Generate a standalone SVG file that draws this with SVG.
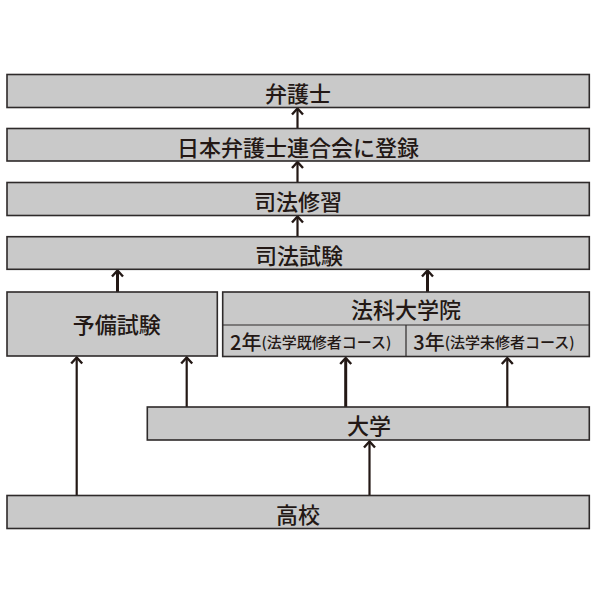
<svg xmlns="http://www.w3.org/2000/svg" width="597" height="600" viewBox="0 0 597 600">
<style>
.box{fill:#c9c9c9;stroke:#2e2a2a;stroke-width:1.6}
.div{fill:none;stroke:#2e2a2a;stroke-width:1.2}
.t{font-family:"Noto Sans CJK JP","Noto Sans",sans-serif;font-weight:500;fill:#231815;text-anchor:middle;dominant-baseline:central}
.l{font-family:"Noto Sans CJK JP","Noto Sans",sans-serif;font-weight:500;fill:#231815;dominant-baseline:central}
.a{fill:none;stroke:#231815;stroke-width:2.2;marker-end:url(#ah)}
.ab{stroke-width:3}
</style>
<defs>
<marker id="ah" markerUnits="userSpaceOnUse" markerWidth="14" markerHeight="14" refX="0" refY="0" viewBox="-8 -7 10 14" orient="auto" overflow="visible">
<path d="M-6,-5.5 L0,0 L-6,5.5" fill="none" stroke="#231815" stroke-width="2.4"/>
</marker>
</defs>
<rect width="597" height="600" fill="#ffffff"/>
<g id="connectors">
<line class="a" x1="297.5" y1="128.5" x2="297.5" y2="108.5"/>
<line class="a" x1="297.5" y1="182.5" x2="297.5" y2="162"/>
<line class="a" x1="297.5" y1="236.7" x2="297.5" y2="216.5"/>
<line class="a ab" x1="117.5" y1="292" x2="117.5" y2="270.5"/>
<line class="a ab" x1="427.5" y1="292" x2="427.5" y2="270.5"/>
<line class="a" x1="76.7" y1="495.5" x2="76.7" y2="357.5"/>
<line class="a" x1="186.7" y1="407" x2="186.7" y2="357.5"/>
<line class="a ab" x1="345.7" y1="407" x2="345.7" y2="358"/>
<line class="a" x1="507.3" y1="407" x2="507.3" y2="358"/>
<line class="a" x1="369.5" y1="495.5" x2="369.5" y2="441.5"/>
</g>
<g id="bengoshi">
<rect class="box" x="7" y="74.5" width="582.3" height="33"/>
<text class="t" x="298" y="91.5" font-size="22">弁護士</text>
</g>
<g id="nichibenren">
<rect class="box" x="7" y="128.5" width="582.3" height="32.5"/>
<text class="t" x="298" y="146" font-size="22">日本弁護士連合会に登録</text>
</g>
<g id="shihoshushu">
<rect class="box" x="7" y="182.5" width="582.3" height="33"/>
<text class="t" x="298" y="200" font-size="22">司法修習</text>
</g>
<g id="shihoshiken">
<rect class="box" x="7" y="236.7" width="582.3" height="32.6"/>
<text class="t" x="299" y="254" font-size="22">司法試験</text>
</g>
<g id="yobishiken">
<rect class="box" x="7" y="292" width="210.3" height="64"/>
<text class="t" x="116.7" y="322.5" font-size="22">予備試験</text>
</g>
<g id="houka">
<rect class="box" x="222.7" y="292" width="366.6" height="64.5"/>
<line class="div" x1="222.7" y1="325" x2="589.3" y2="325"/>
<line class="div" x1="406" y1="325" x2="406" y2="356.5"/>
<text class="t" x="406" y="307.5" font-size="22">法科大学院</text>
<text class="l" x="230" y="341" font-size="20">2年<tspan font-size="15">(法学既修者コース)</tspan></text>
<text class="l" x="413.3" y="341" font-size="20">3年<tspan font-size="15">(法学未修者コース)</tspan></text>
</g>
<g id="daigaku">
<rect class="box" x="147.3" y="407" width="442" height="33"/>
<text class="t" x="369" y="424" font-size="22">大学</text>
</g>
<g id="koukou">
<rect class="box" x="7" y="495.5" width="582.3" height="33"/>
<text class="t" x="298" y="512.5" font-size="22">高校</text>
</g>
</svg>
